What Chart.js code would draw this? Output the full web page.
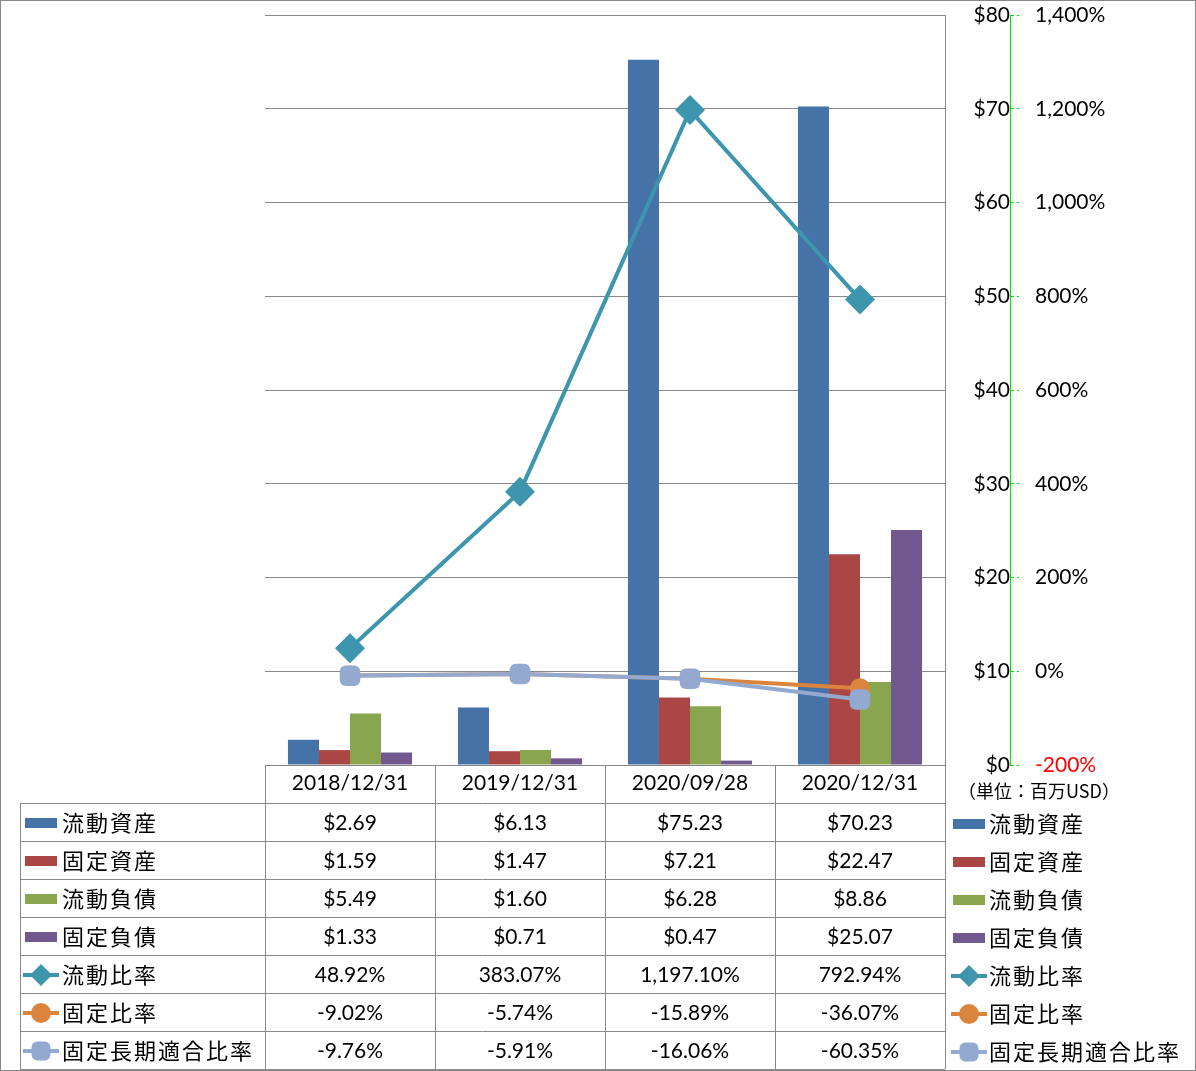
<!DOCTYPE html>
<html>
<head>
<meta charset="utf-8">
<script src="https://cdn.jsdelivr.net/npm/chart.js@4.4.1/dist/chart.umd.min.js"></script>
<style>
html, body { margin: 0; padding: 0; background: #fff; }
#wrap { width: 1196px; height: 1071px; position: relative; }
</style>
</head>
<body>
<div id="wrap"><canvas id="c" width="1196" height="1071"></canvas></div>
<script>
// データ（単位：百万USD / %）
const categories = ['2018/12/31', '2019/12/31', '2020/09/28', '2020/12/31'];
const currentAssets = [2.69, 6.13, 75.23, 70.23];
const fixedAssets = [1.59, 1.47, 7.21, 22.47];
const currentLiabilities = [5.49, 1.60, 6.28, 8.86];
const fixedLiabilities = [1.33, 0.71, 0.47, 25.07];
const currentRatio = [48.92, 383.07, 1197.10, 792.94];
const fixedRatio = [-9.02, -5.74, -15.89, -36.07];
const fixedLongTermRatio = [-9.76, -5.91, -16.06, -60.35];

const unitLabel = '（単位：百万USD）';
const gridColor = '#888888';
const axisGreen = '#00E000';
const numFont = 'Lato, "Noto Sans CJK JP", sans-serif';
const jpFont = '"Noto Sans CJK JP", sans-serif';

Chart.defaults.font.family = numFont;
Chart.defaults.color = '#000';

function fmtMoney(v) { return '$' + v.toFixed(2); }
function fmtPct(v) {
    return v.toLocaleString('en-US', { minimumFractionDigits: 2, maximumFractionDigits: 2 }) + '%';
}

// 軸の余白を消す
function noPad(scale) {
    scale.paddingTop = 0;
    scale.paddingBottom = 0;
    scale.paddingLeft = 0;
    scale.paddingRight = 0;
}

// 凡例の記号を描く
function drawSwatch(ctx, ds, x, cy) {
    ctx.save();
    if (ds.type === 'line') {
        ctx.strokeStyle = ds.borderColor;
        ctx.lineWidth = 4;
        ctx.beginPath();
        ctx.moveTo(x - 2, cy);
        ctx.lineTo(x + 34, cy);
        ctx.stroke();
        ctx.fillStyle = ds.backgroundColor;
        ctx.strokeStyle = ds.borderColor;
        Chart.helpers.drawPoint(ctx, {
            pointStyle: ds.pointStyle,
            radius: ds.legendRadius,
            rotation: 0,
            borderWidth: 0
        }, x + 16, cy);
    } else {
        ctx.fillStyle = ds.backgroundColor;
        ctx.fillRect(x, cy - 5, 32, 10);
    }
    ctx.restore();
}

// データテーブルと右側の凡例
const tablePlugin = {
    id: 'dataTable',
    afterDraw(chart) {
        const ctx = chart.ctx;
        const xs = chart.scales.x;
        const area = chart.chartArea;
        const colW = (xs.getPixelForValue(1) - xs.getPixelForValue(0));
        const left = area.left;
        const right = area.right;
        const top = xs.bottom;
        const rowH = 38;
        const datasets = chart.data.datasets;
        const rows = datasets.length;
        const tableLeft = 20;

        ctx.save();
        ctx.strokeStyle = gridColor;
        ctx.lineWidth = 1;
        ctx.beginPath();
        for (let r = 0; r <= rows; r++) {
            const y = Math.round(top + r * rowH) + 0.5;
            ctx.moveTo(tableLeft, y);
            ctx.lineTo(right, y);
        }
        ctx.moveTo(tableLeft + 0.5, top);
        ctx.lineTo(tableLeft + 0.5, top + rows * rowH);
        for (let c = 0; c <= categories.length; c++) {
            const x = Math.round(left + c * colW) + 0.5;
            ctx.moveTo(x, area.bottom);
            ctx.lineTo(x, top + rows * rowH);
        }
        ctx.stroke();

        // 外枠
        ctx.strokeRect(0.5, 0.5, chart.width - 1, chart.height - 1);

        // 行
        ctx.textBaseline = 'middle';
        datasets.forEach((ds, r) => {
            const cy = top + r * rowH + rowH / 2 + 1;
            drawSwatch(ctx, ds, 25, cy);
            ctx.fillStyle = '#000';
            ctx.textAlign = 'left';
            ctx.font = '22px ' + jpFont;
            ctx.letterSpacing = '2px';
            ctx.fillText(ds.label, 62, cy);
            ctx.letterSpacing = '0px';
            ctx.font = '21px ' + numFont;
            ctx.textAlign = 'center';
            ds.data.forEach((v, i) => {
                const txt = ds.type === 'line' ? fmtPct(v) : fmtMoney(v);
                ctx.fillText(txt, xs.getPixelForValue(i), cy);
            });

            // 右側の凡例
            drawSwatch(ctx, ds, 953, cy + 1);
            ctx.textAlign = 'left';
            ctx.font = '22px ' + jpFont;
            ctx.letterSpacing = '2px';
            ctx.fillText(ds.label, 989, cy + 1);
            ctx.letterSpacing = '0px';
        });

        ctx.font = '18px ' + jpFont;
        ctx.textAlign = 'left';
        ctx.fillStyle = '#000';
        ctx.fillText(unitLabel, 958, area.bottom + 26);
        ctx.restore();
    }
};

const barCommon = { type: 'bar', yAxisID: 'y', barPercentage: 1.0, categoryPercentage: 0.73 };

new Chart(document.getElementById('c'), {
    type: 'bar',
    data: {
        labels: categories,
        datasets: [
            { ...barCommon, label: '流動資産', data: currentAssets, backgroundColor: '#4572A7', order: 10 },
            { ...barCommon, label: '固定資産', data: fixedAssets, backgroundColor: '#AA4643', order: 10 },
            { ...barCommon, label: '流動負債', data: currentLiabilities, backgroundColor: '#89A54E', order: 10 },
            { ...barCommon, label: '固定負債', data: fixedLiabilities, backgroundColor: '#71588F', order: 10 },
            {
                type: 'line', label: '流動比率', data: currentRatio, yAxisID: 'y1',
                borderColor: '#3D96AE', backgroundColor: '#3D96AE', borderWidth: 4,
                pointStyle: 'rectRot', pointRadius: 15, pointBorderWidth: 0, legendRadius: 11,
                tension: 0, order: 3
            },
            {
                type: 'line', label: '固定比率', data: fixedRatio, yAxisID: 'y1',
                borderColor: '#DB843D', backgroundColor: '#DB843D', borderWidth: 4,
                pointStyle: 'circle', pointRadius: 10, pointBorderWidth: 0, legendRadius: 10,
                tension: 0, order: 2
            },
            {
                type: 'line', label: '固定長期適合比率', data: fixedLongTermRatio, yAxisID: 'y1',
                borderColor: '#93A9CF', backgroundColor: '#93A9CF', borderWidth: 4,
                pointStyle: 'rectRounded', pointRadius: 12, pointBorderWidth: 0, legendRadius: 11,
                tension: 0, order: 1
            }
        ]
    },
    options: {
        responsive: false,
        animation: false,
        devicePixelRatio: 1,
        layout: { padding: { left: 265, top: 15, right: 86, bottom: 268 } },
        plugins: {
            legend: { display: false },
            tooltip: { enabled: false }
        },
        scales: {
            x: {
                position: 'bottom',
                offset: true,
                grid: { display: false, drawTicks: false },
                border: { display: true, color: gridColor },
                ticks: { font: { size: 21 }, color: '#000', padding: 6, maxRotation: 0 },
                afterFit(scale) { scale.height = 38; noPad(scale); }
            },
            y: {
                position: 'right',
                min: 0,
                max: 80,
                grid: { color: gridColor, drawTicks: false },
                border: { display: true, color: gridColor },
                ticks: {
                    stepSize: 10,
                    font: { size: 21 },
                    color: '#000',
                    crossAlign: 'far',
                    padding: 22,
                    callback: v => '$' + v
                },
                afterFit(scale) { scale.width = 65; noPad(scale); }
            },
            y1: {
                position: 'right',
                min: -200,
                max: 1400,
                grid: {
                    drawOnChartArea: false,
                    color: axisGreen,
                    tickLength: 9,
                    tickBorderDash: [3, 3]
                },
                border: { display: true, color: axisGreen, dash: [4, 3] },
                ticks: {
                    stepSize: 200,
                    font: { size: 21 },
                    padding: 16,
                    color: c => (c.tick && c.tick.value === -200 ? '#FF0000' : '#000'),
                    callback: v => v.toLocaleString('en-US') + '%'
                },
                afterFit(scale) { scale.width = 100; noPad(scale); }
            }
        }
    },
    plugins: [tablePlugin]
});
</script>
</body>
</html>
